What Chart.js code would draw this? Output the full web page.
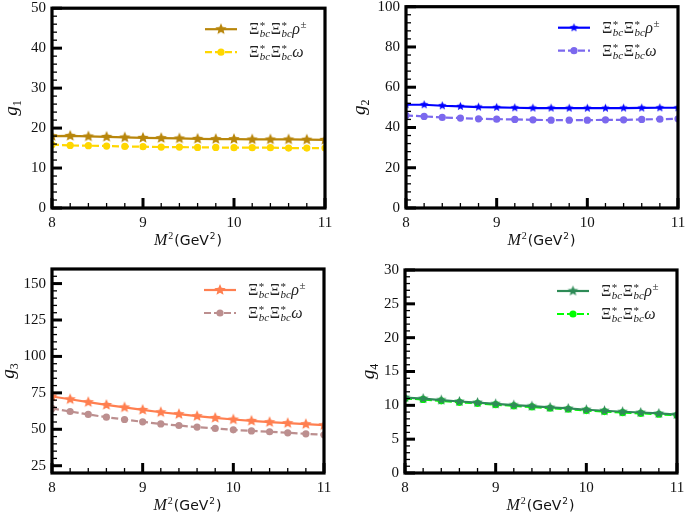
<!DOCTYPE html>
<html>
<head>
<meta charset="utf-8">
<script src="https://cdn.jsdelivr.net/npm/chart.js@4.4.1/dist/chart.umd.min.js"></script>
<style>
  html, body { margin: 0; padding: 0; background: #fff; }
  #wrap { position: relative; width: 685px; height: 514px; }
  #wrap canvas { position: absolute; left: 0; top: 0; }
</style>
</head>
<body>
<div id="wrap">
  <canvas id="c1" width="685" height="514"></canvas>
  <canvas id="c2" width="685" height="514"></canvas>
  <canvas id="c3" width="685" height="514"></canvas>
  <canvas id="c4" width="685" height="514"></canvas>
</div>
<script>
// M^2 (GeV^2)
const mass = [8.0, 8.2, 8.4, 8.6, 8.8, 9.0, 9.2, 9.4, 9.6, 9.8, 10.0, 10.2, 10.4, 10.6, 10.8, 11.0];
const xTicks = [8, 9, 10, 11];

// g1
const g1Rho   = [18.0, 18.05, 17.9, 17.8, 17.65, 17.55, 17.5, 17.4, 17.3, 17.25, 17.25, 17.15, 17.15, 17.15, 17.1, 17.05];
const g1Omega = [15.85, 15.65, 15.6, 15.5, 15.4, 15.35, 15.25, 15.25, 15.15, 15.15, 15.1, 15.1, 15.1, 15.0, 15.0, 15.0];
const g1Ticks = [0, 10, 20, 30, 40, 50];

// g2
const g2Rho   = [51.3, 51.3, 50.8, 50.5, 50.15, 50.0, 49.8, 49.65, 49.65, 49.6, 49.6, 49.6, 49.65, 49.7, 49.8, 49.8];
const g2Omega = [46.0, 45.5, 45.0, 44.65, 44.3, 44.15, 44.0, 43.8, 43.65, 43.65, 43.65, 43.8, 43.8, 44.0, 44.15, 44.3];
const g2Ticks = [0, 20, 40, 60, 80, 100];

// g3
const g3Rho   = [72.5, 70.6, 68.6, 66.7, 65.0, 63.3, 61.7, 60.4, 59.0, 57.8, 56.7, 55.8, 54.9, 54.2, 53.5, 52.8];
const g3Omega = [64.3, 62.2, 60.2, 58.3, 56.7, 55.1, 53.7, 52.6, 51.5, 50.6, 49.6, 48.9, 48.3, 47.6, 46.9, 46.2];
const g3Ticks = [25, 50, 75, 100, 125, 150];

// g4
const g4Rho   = [11.15, 11.0, 10.78, 10.57, 10.41, 10.22, 10.04, 9.88, 9.69, 9.54, 9.35, 9.2, 9.05, 8.94, 8.8, 8.64];
const g4Omega = [11.0, 10.88, 10.66, 10.45, 10.3, 10.1, 9.92, 9.76, 9.57, 9.42, 9.23, 9.08, 8.93, 8.82, 8.68, 8.52];
const g4Ticks = [0, 5, 10, 15, 20, 25, 30];

const SERIF = '"Liberation Serif", "DejaVu Serif", serif';
const SANS = '"DejaVu Sans", "Liberation Sans", sans-serif';

// filled five point star, used as point style
function starImage(color, r) {
  const s = Math.ceil(r * 2 + 2);
  const c = document.createElement('canvas');
  c.width = s; c.height = s;
  const ctx = c.getContext('2d');
  ctx.beginPath();
  for (let i = 0; i < 10; i++) {
    const ang = -Math.PI / 2 + i * Math.PI / 5;
    const rr = i % 2 ? r * 0.45 : r;
    ctx.lineTo(s / 2 + rr * Math.cos(ang), s / 2 + rr * Math.sin(ang));
  }
  ctx.closePath();
  ctx.fillStyle = color;
  ctx.fill();
  return c;
}

function pts(ys) {
  return mass.map((m, i) => ({ x: m, y: ys[i] }));
}

// draw "Ξ*_bc Ξ*_bc" + tail
function drawXi(ctx, x, y, tail, tailSup) {
  const big = '16px ' + SERIF;
  const small = '11px ' + SERIF;
  const smallIt = 'italic 11px ' + SERIF;
  for (let k = 0; k < 2; k++) {
    ctx.font = big;
    ctx.fillText('Ξ', x, y);
    x += ctx.measureText('Ξ').width + 0.5;
    ctx.font = small;
    ctx.fillText('*', x, y - 5);
    const w1 = ctx.measureText('*').width;
    ctx.font = smallIt;
    ctx.fillText('bc', x, y + 3);
    x += Math.max(w1, ctx.measureText('bc').width) + 0.5;
  }
  ctx.font = 'italic 16px ' + SERIF;
  ctx.fillText(tail, x, y);
  x += ctx.measureText(tail).width + 0.5;
  if (tailSup) {
    ctx.font = small;
    ctx.fillText(tailSup, x, y - 6);
  }
}

const frame = {
  id: 'frame',
  afterDraw(chart, args, p) {
    const { ctx, chartArea: a, scales: { x, y } } = chart;
    ctx.save();
    ctx.strokeStyle = '#000';
    ctx.lineCap = 'butt';

    // minor ticks, inward
    ctx.lineWidth = 1.3;
    let n = Math.round((p.yMax - p.yMin) / p.yMinor);
    for (let i = 0; i <= n; i++) {
      const v = p.yMin + i * p.yMinor;
      if (p.ticks.indexOf(v) >= 0) continue;
      const py = y.getPixelForValue(v);
      ctx.beginPath(); ctx.moveTo(a.left, py); ctx.lineTo(a.left + 5, py); ctx.stroke();
    }
    n = Math.round((11 - 8) / 0.2);
    for (let i = 0; i <= n; i++) {
      const v = 8 + i * 0.2;
      if (i % 5 === 0) continue;
      const px = x.getPixelForValue(v);
      ctx.beginPath(); ctx.moveTo(px, a.bottom); ctx.lineTo(px, a.bottom - 5); ctx.stroke();
    }
    // major ticks
    ctx.lineWidth = 3;
    p.ticks.forEach(v => {
      const py = y.getPixelForValue(v);
      ctx.beginPath(); ctx.moveTo(a.left, py); ctx.lineTo(a.left + 10, py); ctx.stroke();
    });
    xTicks.forEach(v => {
      const px = x.getPixelForValue(v);
      ctx.beginPath(); ctx.moveTo(px, a.bottom); ctx.lineTo(px, a.bottom - 10); ctx.stroke();
    });
    // frame
    ctx.lineWidth = 3.2;
    ctx.strokeRect(a.left, a.top, a.right - a.left, a.bottom - a.top);

    // legend
    const rows = [
      { color: p.rhoColor, dash: [], img: p.starImg, tail: 'ρ', sup: '±' },
      { color: p.omegaColor, dash: [7, 3], img: null, tail: 'ω', sup: '' }
    ];
    rows.forEach((r, i) => {
      const cy = a.top + 21 + i * 23;
      const x0 = a.right - 120;
      ctx.strokeStyle = r.color;
      ctx.lineWidth = 2.2;
      ctx.setLineDash(r.dash);
      ctx.beginPath(); ctx.moveTo(x0, cy); ctx.lineTo(x0 + 32, cy); ctx.stroke();
      ctx.setLineDash([]);
      if (r.img) {
        ctx.drawImage(r.img, x0 + 16 - r.img.width / 2, cy - r.img.height / 2);
      } else {
        ctx.fillStyle = r.color;
        ctx.beginPath(); ctx.arc(x0 + 16, cy, 3.6, 0, Math.PI * 2); ctx.fill();
      }
      ctx.fillStyle = '#222';
      ctx.textBaseline = 'alphabetic';
      ctx.textAlign = 'left';
      drawXi(ctx, x0 + 44, cy + 5, r.tail, r.sup);
    });

    // x title: M^2 (GeV^2)
    ctx.fillStyle = '#111';
    const parts = [
      { t: 'M', f: 'italic 16px ' + SERIF, dy: 0 },
      { t: '2', f: '10px ' + SERIF, dy: -6 },
      { t: '(GeV', f: '14px ' + SANS, dy: 0 },
      { t: '2', f: '9px ' + SANS, dy: -6 },
      { t: ')', f: '14px ' + SANS, dy: 0 }
    ];
    let tw = 0;
    parts.forEach(s => { ctx.font = s.f; s.w = ctx.measureText(s.t).width + 1; tw += s.w; });
    let tx = (a.left + a.right) / 2 - tw / 2;
    const ty = a.bottom + 37;
    parts.forEach(s => { ctx.font = s.f; ctx.fillText(s.t, tx, ty + s.dy); tx += s.w; });

    // y title: g_n
    ctx.translate(a.left - p.yTitleOff, (a.top + a.bottom) / 2);
    ctx.rotate(-Math.PI / 2);
    ctx.font = 'italic 19px ' + SERIF;
    const gw = ctx.measureText('g').width;
    ctx.font = '12px ' + SERIF;
    const nw = ctx.measureText(p.n).width;
    const gx = -(gw + nw) / 2;
    ctx.font = 'italic 19px ' + SERIF;
    ctx.fillText('g', gx, 5);
    ctx.font = '12px ' + SERIF;
    ctx.fillText(p.n, gx + gw, 9);
    ctx.restore();
  }
};

const panels = [
  { id: 'c1', n: '1', area: [52, 4, 325, 208], yMin: 0, yMax: 50, yMinor: 2, ticks: g1Ticks,
    rho: g1Rho, omega: g1Omega, rhoColor: '#b8860b', omegaColor: '#ffd700', star: 6, yTitleOff: 40 },
  { id: 'c2', n: '2', area: [406, 4, 678, 208], yMin: 0, yMax: 100, yMinor: 4, ticks: g2Ticks,
    rho: g2Rho, omega: g2Omega, rhoColor: '#0000ff', omegaColor: '#7b68ee', star: 4.5, yTitleOff: 46 },
  { id: 'c3', n: '3', area: [52, 269, 324, 473], yMin: 20, yMax: 160, yMinor: 5, ticks: g3Ticks,
    rho: g3Rho, omega: g3Omega, rhoColor: '#ff7f50', omegaColor: '#bc8f8f', star: 6, yTitleOff: 43 },
  { id: 'c4', n: '4', area: [405, 270, 677, 473], yMin: 0, yMax: 30, yMinor: 1, ticks: g4Ticks,
    rho: g4Rho, omega: g4Omega, rhoColor: '#2e8b57', omegaColor: '#00ff00', star: 5.5, yTitleOff: 36 }
];

const Y_W = 40, X_H = 30;

panels.forEach(p => {
  p.starImg = starImage(p.rhoColor, p.star);
  const [L, T, R, B] = p.area;
  new Chart(document.getElementById(p.id), {
    type: 'line',
    data: {
      datasets: [
        {
          label: 'rho',
          data: pts(p.rho),
          borderColor: p.rhoColor,
          borderWidth: 2.2,
          pointStyle: p.starImg,
          pointRadius: p.star,
          backgroundColor: p.rhoColor,
          tension: 0
        },
        {
          label: 'omega',
          data: pts(p.omega),
          borderColor: p.omegaColor,
          borderWidth: 2.2,
          borderDash: [7, 3],
          pointStyle: 'circle',
          pointRadius: 3.6,
          pointBorderWidth: 0,
          backgroundColor: p.omegaColor,
          tension: 0
        }
      ]
    },
    options: {
      responsive: false,
      animation: false,
      events: [],
      layout: { padding: { left: L - Y_W, top: T, right: 685 - R, bottom: 514 - B - X_H } },
      plugins: { legend: { display: false }, tooltip: { enabled: false }, frame: p },
      scales: {
        x: {
          type: 'linear',
          min: 8, max: 11,
          grid: { display: false, drawTicks: false, tickLength: 0 },
          border: { display: false },
          afterBuildTicks: s => { s.ticks = xTicks.map(v => ({ value: v })); },
          afterFit: s => { s.height = X_H; s.paddingLeft = 0; s.paddingRight = 0; s.paddingTop = 0; s.paddingBottom = 0; },
          ticks: { padding: 6, color: '#111', font: { family: SERIF, size: 15 }, maxRotation: 0 }
        },
        y: {
          min: p.yMin, max: p.yMax,
          grid: { display: false, drawTicks: false, tickLength: 0 },
          border: { display: false },
          afterBuildTicks: s => { s.ticks = p.ticks.map(v => ({ value: v })); },
          afterFit: s => { s.width = Y_W; s.paddingLeft = 0; s.paddingRight = 0; s.paddingTop = 0; s.paddingBottom = 0; },
          ticks: { padding: 6, color: '#111', font: { family: SERIF, size: 15 } }
        }
      }
    },
    plugins: [frame]
  });
});
</script>
</body>
</html>
